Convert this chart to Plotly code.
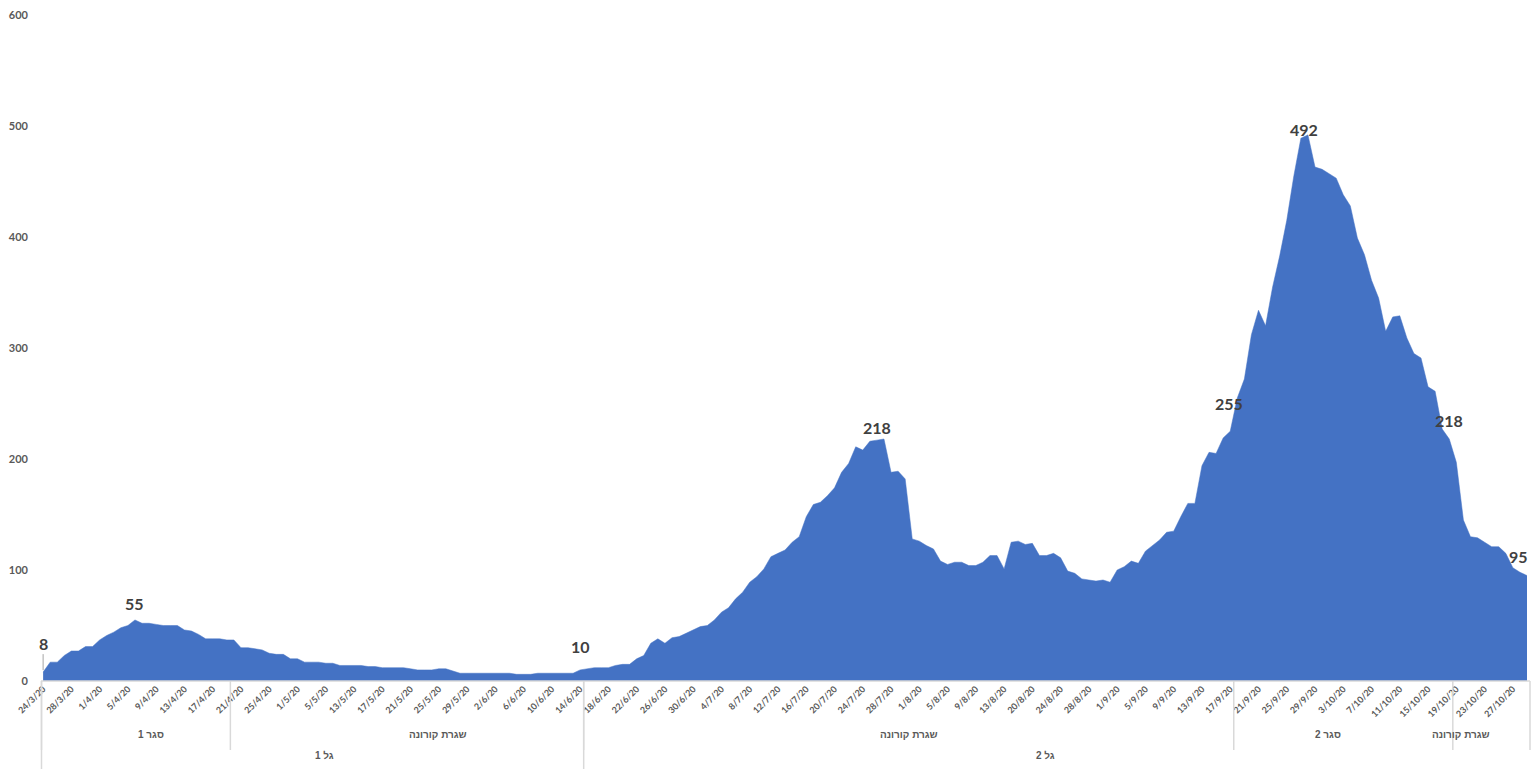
import pandas as pd
import plotly.graph_objects as go

# ---------------- data ----------------
missing_days = ["2020-04-28", "2020-04-29", "2020-05-07", "2020-05-08", "2020-05-09",
                "2020-05-12", "2020-08-14", "2020-08-15", "2020-08-19"]
day_range = pd.date_range("2020-03-24", "2020-10-29")
categories = [f"{d.day}/{d.month}/20" for d in day_range
              if d.strftime("%Y-%m-%d") not in missing_days]

values = [
    8, 17, 17, 23, 27, 27, 31, 31, 37, 41,
    44, 48, 50, 55, 52, 52, 51, 50, 50, 50,
    46, 45, 42, 38, 38, 38, 37, 37, 30, 30,
    29, 28, 25, 24, 24, 20, 20, 17, 17, 17,
    16, 16, 14, 14, 14, 14, 13, 13, 12, 12,
    12, 12, 11, 10, 10, 10, 11, 11, 9, 7,
    7, 7, 7, 7, 7, 7, 7, 6, 6, 6,
    7, 7, 7, 7, 7, 7, 10, 11, 12, 12,
    12, 14, 15, 15, 20, 23, 34, 38, 34, 39,
    40, 43, 46, 49, 50, 55, 62, 66, 74, 80,
    89, 94, 101, 112, 115, 118, 125, 130, 148, 159,
    161, 167, 174, 188, 196, 211, 208, 216, 217, 218,
    188, 189, 182, 128, 126, 122, 119, 108, 105, 107,
    107, 104, 104, 107, 113, 113, 101, 125, 126, 123,
    124, 113, 113, 115, 111, 99, 97, 92, 91, 90,
    91, 89, 100, 103, 108, 106, 117, 122, 127, 134,
    135, 148, 160, 160, 194, 206, 205, 219, 225, 255,
    272, 312, 334, 320, 355, 383, 415, 455, 489, 492,
    463, 461, 457, 453, 438, 428, 399, 384, 361, 345,
    315, 328, 329, 309, 295, 291, 265, 261, 227, 218,
    197, 145, 130, 129, 125, 121, 121, 115, 102, 98,
    95,
]

labeled_points = [0, 13, 76, 119, 169, 179, 199, 210]

tick_labels = categories[::4]

y_ticks = [0, 100, 200, 300, 400, 500, 600]

# level-1 groups: (label, first index, last index)
level1_groups = [("סגר 1", 0, 26), ("שגרת קורונה", 27, 76), ("שגרת קורונה", 77, 168),
                 ("סגר 2", 169, 199), ("שגרת קורונה", 200, 210)]
level2_groups = [("גל 1", 0, 76), ("גל 2", 77, 210)]

# ---------------- figure ----------------
BLUE = "#4472C4"
GREY_TXT = "#595959"
LINE = "#D9D9D9"
W, H = 1531, 769
ML, MR, MT, MB = 41, 4, 15, 88
X_LO, X_HI = -0.3, 210
plot_h = H - MT - MB
plot_w = W - ML - MR
px_per_cat = plot_w / (X_HI - X_LO)

fig = go.Figure()
fig.add_trace(go.Scatter(
    x=categories, y=values, mode="lines",
    line=dict(color=BLUE, width=0.5),
    fill="tozeroy", fillcolor=BLUE,
    hoverinfo="x+y", showlegend=False,
))

# data labels (manually offset like the reference)
offsets = {0: (0, 29), 13: (0, 16), 76: (0, 23), 119: (-7, 12),
           169: (-8, -6), 179: (-4, 5), 199: (0, 19), 210: (-9, 19)}
for i in labeled_points:
    dx, dy = offsets[i]
    if i == 0:
        fig.add_annotation(x=categories[i], y=values[i], text=f"<b>{values[i]}</b>",
                           showarrow=True, arrowhead=0, arrowwidth=1, arrowcolor="#A6A6A6",
                           ax=0, ay=-dy, standoff=2,
                           font=dict(family="Lato, DejaVu Sans", size=16, color="#404040"))
    else:
        fig.add_annotation(x=categories[i], y=values[i], text=f"<b>{values[i]}</b>",
                           showarrow=False, xshift=dx, yshift=dy,
                           font=dict(family="Lato, DejaVu Sans", size=16, color="#404040"))

# multi-level category axis: separators and group labels
def xpaper_from_idx(v):
    return (v - X_LO) / (X_HI - X_LO)

def ypaper_from_px(py):
    return (H - MB - py) / plot_h

right_edge_idx = X_HI + 3 / px_per_cat
left_edge_idx = X_LO + 0.5 / px_per_cat

y_axis_px = H - MB
lvl1_bottom = ypaper_from_px(y_axis_px + 69)
lvl2_bottom = ypaper_from_px(y_axis_px + 95)

bounds1 = [left_edge_idx] + [g[2] + 0.5 for g in level1_groups[:-1]] + [right_edge_idx]
for b in bounds1:
    fig.add_shape(type="line", xref="paper", yref="paper",
                  x0=xpaper_from_idx(b), x1=xpaper_from_idx(b), y0=0, y1=lvl1_bottom,
                  line=dict(color=LINE, width=1.5))
bounds2 = [left_edge_idx] + [g[2] + 0.5 for g in level2_groups[:-1]]
for b in bounds2:
    fig.add_shape(type="line", xref="paper", yref="paper",
                  x0=xpaper_from_idx(b), x1=xpaper_from_idx(b), y0=0, y1=lvl2_bottom,
                  line=dict(color=LINE, width=1.5))
fig.add_shape(type="line", xref="paper", yref="paper",
              x0=0, x1=xpaper_from_idx(right_edge_idx), y0=0, y1=0,
              line=dict(color=LINE, width=1.5))

for k, (name, a, b) in enumerate(level1_groups):
    c = (bounds1[k] + bounds1[k + 1]) / 2
    fig.add_annotation(xref="paper", yref="paper", x=xpaper_from_idx(c),
                       y=ypaper_from_px(742), text=f"<b>{name}</b>", showarrow=False,
                       font=dict(family="Liberation Sans, DejaVu Sans", size=10, color=GREY_TXT))
lvl2_b = bounds2 + [right_edge_idx]
for k, (name, a, b) in enumerate(level2_groups):
    c = (lvl2_b[k] + lvl2_b[k + 1]) / 2
    fig.add_annotation(xref="paper", yref="paper", x=xpaper_from_idx(c),
                       y=ypaper_from_px(763), text=f"<b>{name}</b>", showarrow=False,
                       font=dict(family="Liberation Sans, DejaVu Sans", size=10, color=GREY_TXT))

fig.update_layout(
    width=W, height=H,
    margin=dict(l=ML, r=MR, t=MT, b=MB, autoexpand=False),
    paper_bgcolor="white", plot_bgcolor="white",
    xaxis=dict(
        type="category", range=[X_LO, X_HI],
        tickmode="array", tickvals=tick_labels, ticktext=[f"<b>{t}</b>" for t in tick_labels],
        tickangle=-45, tickfont=dict(family="Lato, DejaVu Sans", size=9, color=GREY_TXT),
        showgrid=False, zeroline=False, showline=False, ticks="",
    ),
    yaxis=dict(
        range=[0, 600], tickmode="array", tickvals=y_ticks,
        ticktext=[f"<b>{t}</b>" for t in y_ticks],
        tickfont=dict(family="Lato, DejaVu Sans", size=11, color=GREY_TXT),
        showgrid=False, zeroline=False, showline=False, ticks="",
        ticklabelstandoff=12,
    ),
)

fig.write_html("out.html", config={"displayModeBar": False},
               post_script="document.body.style.margin='0';document.body.style.overflow='hidden';")
